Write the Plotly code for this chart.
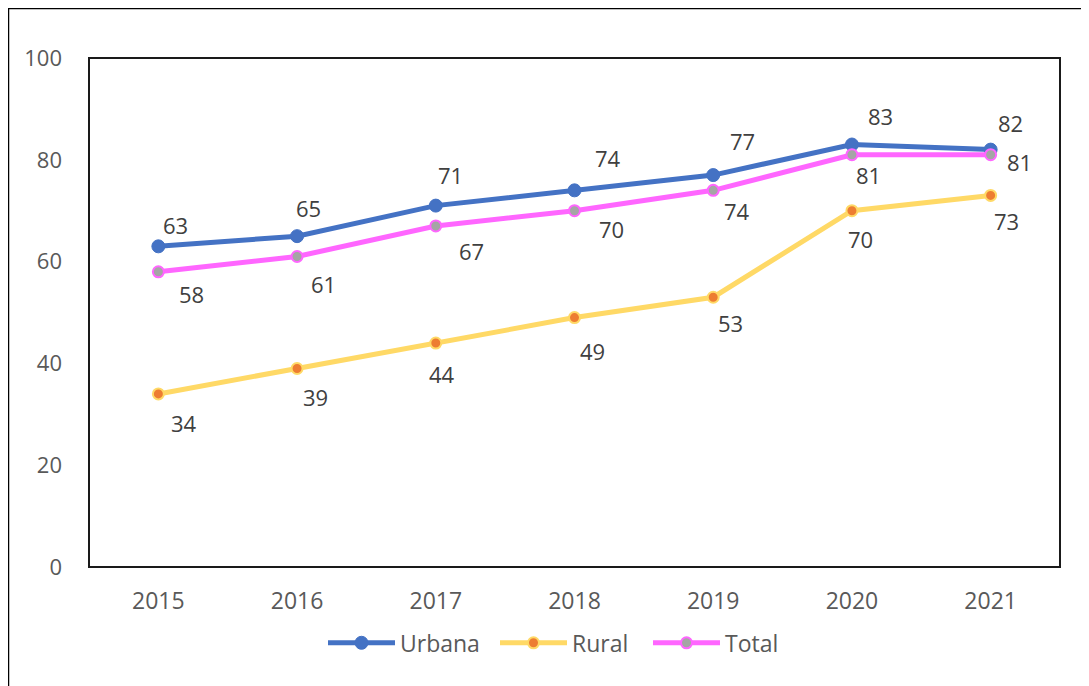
import plotly.graph_objects as go

years = ["2015", "2016", "2017", "2018", "2019", "2020", "2021"]
urbana = [63, 65, 71, 74, 77, 83, 82]
rural = [34, 39, 44, 49, 53, 70, 73]
total = [58, 61, 67, 70, 74, 81, 81]
y_ticks = [0, 20, 40, 60, 80, 100]

# label pixel offsets (style only): (dx, dy) with dy measured downward
urbana_off = [(17, -21), (11, -28), (15, -31), (33, -32), (29, -34), (29, -29), (20, -27)]
rural_off = [(26, 29), (18, 29), (6, 31), (18, 33), (17, 26), (9, 28), (16, 26)]
total_off = [(33, 22), (26, 27), (36, 25), (37, 18), (24, 21), (17, 20), (29, 7)]

FONT = "Open Sans"
TXT = "#404040"
TICK = "#595959"

fig = go.Figure()
fig.add_trace(go.Scatter(
    x=years, y=urbana, name="Urbana", mode="lines+markers", legend="legend",
    line=dict(color="#4472C4", width=5),
    marker=dict(color="#4472C4", size=13, line=dict(color="#4472C4", width=1)),
))
fig.add_trace(go.Scatter(
    x=years, y=rural, name="Rural", mode="lines+markers", legend="legend2",
    line=dict(color="#FFD966", width=5),
    marker=dict(color="#ED7D31", size=11, line=dict(color="#FFD966", width=2)),
))
fig.add_trace(go.Scatter(
    x=years, y=total, name="Total", mode="lines+markers", legend="legend3",
    line=dict(color="#FF66FF", width=5),
    marker=dict(color="#A5A5A5", size=11, line=dict(color="#FF66FF", width=2)),
))

annotations = []
for vals, offs in ((urbana, urbana_off), (rural, rural_off), (total, total_off)):
    for i, (v, (dx, dy)) in enumerate(zip(vals, offs)):
        annotations.append(dict(
            x=i, y=v, xref="x", yref="y", text=str(v), showarrow=False,
            xshift=dx, yshift=-dy,
            font=dict(family=FONT, size=22, color=TXT),
        ))

# page body adds an 8px offset, so the figure is 8px smaller than the window
W, H = 1081, 678
ml, mr, mt, mb = 81, 29, 50, 119
pw, ph = W - ml - mr, H - mt - mb
x_left = (0 - ml) / pw
y_top = (H - mb - 0) / ph

shapes = [
    dict(type="line", xref="paper", yref="paper", x0=x_left, x1=1.2, y0=y_top, y1=y_top,
         line=dict(color="#000000", width=2.5)),
    dict(type="line", xref="paper", yref="paper", x0=x_left, x1=x_left, y0=-0.5, y1=y_top,
         line=dict(color="#000000", width=2.5)),
    dict(type="rect", xref="paper", yref="paper", x0=0, x1=1, y0=0, y1=1,
         line=dict(color="#1a1a1a", width=2)),
]

def leg(px):
    # px: screen x of the legend symbol start
    return dict(orientation="h", x=(px - 8 - ml) / pw, xanchor="left",
                y=-0.149, yanchor="middle", bgcolor="rgba(0,0,0,0)",
                font=dict(family=FONT, size=23, color=TICK),
                itemwidth=67, tracegroupgap=0)

fig.update_layout(
    width=W, height=H,
    margin=dict(l=ml, r=mr, t=mt, b=mb),
    paper_bgcolor="white", plot_bgcolor="white",
    font=dict(family=FONT, size=22, color=TICK),
    showlegend=True,
    legend=leg(328 - 5),
    legend2=leg(500 - 5),
    legend3=leg(653 - 5),
    xaxis=dict(type="category", range=[-0.5, 6.5], showgrid=False, zeroline=False,
               showline=False, ticks="", ticklabelstandoff=18,
               tickfont=dict(family=FONT, size=23, color=TICK)),
    yaxis=dict(range=[0, 100], tickvals=y_ticks, showgrid=False, zeroline=False,
               showline=False, ticks="", ticklabelstandoff=26,
               tickfont=dict(family=FONT, size=22, color=TICK)),
    annotations=annotations,
    shapes=shapes,
)

fig.write_html("out.html")
